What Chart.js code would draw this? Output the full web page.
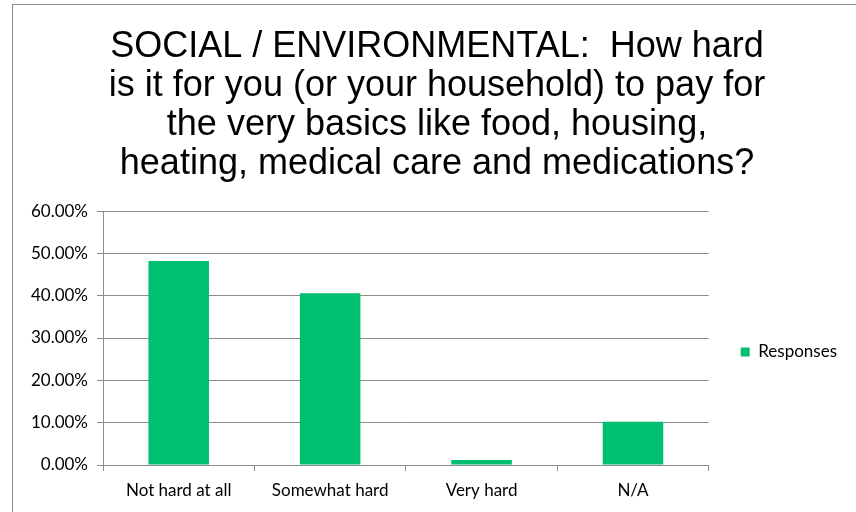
<!DOCTYPE html>
<html>
<head>
<meta charset="utf-8">
<script src="https://cdn.jsdelivr.net/npm/chart.js@4/dist/chart.umd.min.js"></script>
<style>
  html, body { margin: 0; padding: 0; background: #fff; overflow: hidden; width: 856px; height: 512px; }
  #frame { position: absolute; left: 12px; top: 4px; width: 850px; height: 520px;
           border-left: 1px solid #8c8c8c; border-top: 1px solid #8c8c8c; }
  #wrap { position: absolute; left: 20px; top: 5px; height: 507px; }
</style>
</head>
<body>
<div id="frame"></div>
<div id="wrap"><canvas id="c" height="507"></canvas></div>
<script>
const titleLines = [
  "SOCIAL / ENVIRONMENTAL:  How hard",
  "is it for you (or your household) to pay for",
  "the very basics like food, housing,",
  "heating, medical care and medications?"
];
const categories = ["Not hard at all", "Somewhat hard", "Very hard", "N/A"];
const seriesName = "Responses";
const responses = [48.2, 40.6, 1.2, 10.2];
const yTicks = [0, 10, 20, 30, 40, 50, 60];

const gridColor = '#8c8c8c';
const barColor = '#00BF6F';
const tickFont = { family: 'Lato, sans-serif', size: 17 };
const legendFont = { family: 'Lato, sans-serif', size: 17 };
const legendPad = 32;

// Geometry: plot area from page x 103 to 709; title centred at page x ~437.
const mctx = document.createElement('canvas').getContext('2d');
mctx.font = legendFont.size + 'px ' + legendFont.family;
const tw = mctx.measureText(seriesName).width;
const legendW = legendPad + 9 + legendFont.size / 2 + tw + 10;
const canvasLeft = Math.round(165 - legendW);          // title centre = canvasLeft + W/2 = 437
const canvasW = Math.round(709 - canvasLeft + legendW);
const yAxisW = 103 - canvasLeft;
const wrap = document.getElementById('wrap');
wrap.style.left = canvasLeft + 'px';
const cv = document.getElementById('c');
cv.width = canvasW;
cv.style.width = canvasW + 'px';
cv.style.height = '507px';

new Chart(cv, {
  type: 'bar',
  data: {
    labels: categories,
    datasets: [{
      label: seriesName,
      data: responses,
      backgroundColor: barColor,
      borderWidth: 0,
      barPercentage: 0.4,
      categoryPercentage: 1.0
    }]
  },
  options: {
    responsive: false,
    animation: false,
    layout: { padding: { left: 0, right: 0, top: 0, bottom: 0 } },
    plugins: {
      title: {
        display: true,
        text: titleLines,
        color: '#000',
        font: { family: 'Liberation Sans, Arial, sans-serif', size: 36, weight: 'normal', lineHeight: 1.08 },
        padding: { top: 23, bottom: 27.5 }
      },
      legend: {
        display: true,
        position: 'right',
        fullSize: false,
        title: { display: true, text: '', font: { size: 14, lineHeight: 1 }, padding: { top: 14, bottom: 0 } },
        labels: {
          boxWidth: 9, boxHeight: 9,
          color: '#000',
          font: legendFont,
          padding: legendPad
        }
      },
      tooltip: { enabled: false }
    },
    scales: {
      x: {
        offset: true,
        grid: { display: true, drawOnChartArea: false, drawTicks: true, tickLength: 6, color: gridColor, offset: true },
        border: { display: true, color: gridColor },
        ticks: { color: '#000', font: tickFont, padding: 9, maxRotation: 0 },
        afterFit: s => { s.height = 47; }
      },
      y: {
        min: 0, max: 60,
        afterBuildTicks: s => { s.ticks = yTicks.map(v => ({ value: v })); },
        grid: { color: gridColor, tickLength: 6, drawTicks: true },
        border: { display: true, color: gridColor },
        ticks: {
          color: '#000',
          font: tickFont,
          padding: 9,
          callback: v => Number(v).toFixed(2) + '%'
        },
        afterFit: s => { s.width = yAxisW; }
      }
    }
  }
});
</script>
</body>
</html>
